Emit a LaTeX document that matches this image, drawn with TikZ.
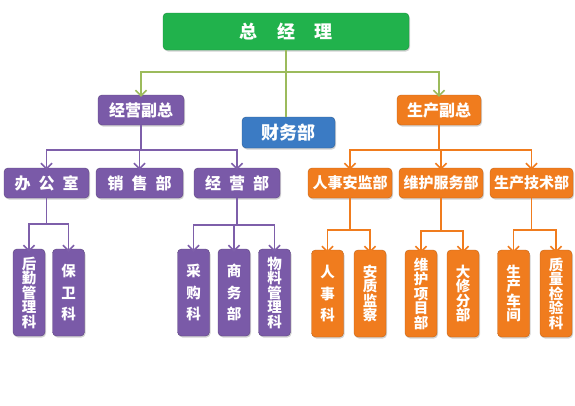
\documentclass[tikz,border=0pt]{standalone}
\usepackage{fontspec}
\setmainfont{Noto Sans CJK SC}
\usepackage{tikz}
\usetikzlibrary{arrows.meta, positioning, shadows}

\definecolor{gmgreen}{HTML}{21B24C}
\definecolor{gmline}{HTML}{9CBB5C}
\definecolor{fzpurple}{HTML}{7A5AA8}
\definecolor{fzline}{HTML}{7E5FAA}
\definecolor{sporange}{HTML}{F07C1E}
\definecolor{cwblue}{HTML}{3B7BC4}

\begin{document}
\begin{tikzpicture}[x=1pt, y=-1pt,
    box/.style={rounded corners=4pt, text=white, font=\bfseries,
        inner sep=0pt, drop shadow={shadow xshift=1pt, shadow yshift=-1.5pt, opacity=0.35}},
    topbox/.style={box, fill=gmgreen, draw=gmgreen!80!black,
        minimum width=246pt, minimum height=37pt, font=\bfseries\fontsize{18}{20}\selectfont},
    bluebox/.style={box, fill=cwblue, draw=cwblue!75!black,
        minimum width=93pt, minimum height=31pt, font=\bfseries\fontsize{18}{20}\selectfont},
    purplebox/.style={box, fill=fzpurple, draw=fzpurple!75!black,
        minimum height=30pt, font=\bfseries\fontsize{16}{18}\selectfont},
    orangebox/.style={box, fill=sporange, draw=sporange!80!black,
        minimum height=30pt, font=\bfseries\fontsize{15}{17}\selectfont},
    vbox/.style={minimum width=32pt, minimum height=87pt, align=center,
        font=\bfseries\fontsize{14.5}{14.5}\selectfont},
    pv/.style={purplebox, vbox},
    ov/.style={orangebox, vbox},
    link/.style={line width=1.6pt, -{Straight Barb[length=5.5pt, width=11pt, line width=1.6pt]}},
    greenlink/.style={link, draw=gmline},
    purplelink/.style={link, draw=fzline},
    orangelink/.style={link, draw=sporange}]

\useasboundingbox (0,0) rectangle (575,405);

% top level
\node[topbox] (zjl) at (286,31.5) {总\hspace{1.1em}经\hspace{1.1em}理};
\node[purplebox, minimum width=86pt] (jyfz) at (141,110) {经营副总};
\node[bluebox] (cwb) at (288.5,132.5) {财务部};
\node[orangebox, minimum width=84pt, font=\bfseries\fontsize{16}{18}\selectfont] (scfz) at (439,110) {生产副总};

% second level
\node[purplebox, minimum width=85pt] (bgs) at (46.5,183) {办\hspace{0.5em}公\hspace{0.5em}室};
\node[purplebox, minimum width=87pt] (xsb) at (139.5,183) {销\hspace{0.5em}售\hspace{0.5em}部};
\node[purplebox, minimum width=86pt] (jyb) at (237,183) {经\hspace{0.5em}营\hspace{0.5em}部};
\node[orangebox, minimum width=84pt] (rsab) at (350,183) {人事安监部};
\node[orangebox, minimum width=84pt] (whfw) at (441,183) {维护服务部};
\node[orangebox, minimum width=83pt] (scjs) at (531.5,183) {生产技术部};

% third level
\node[pv] (hqgl) at (29,292.5) {后\\勤\\管\\理\\科};
\node[pv] (bwk) at (68.5,292.5) {保\\[7pt]卫\\[7pt]科};
\node[pv] (cgk) at (193.5,292.5) {采\\[7pt]购\\[7pt]科};
\node[pv] (swb) at (234,292.5) {商\\[7pt]务\\[7pt]部};
\node[pv] (wlgl) at (274.5,292.5) {物\\料\\管\\理\\科};
\node[ov] (rsk) at (327.5,293.5) {人\\[7pt]事\\[7pt]科};
\node[ov] (azjc) at (370,293.5) {安\\质\\监\\察};
\node[ov] (whxm) at (421,293.5) {维\\护\\项\\目\\部};
\node[ov] (dxfb) at (463,293.5) {大\\修\\分\\部};
\node[ov] (sccj) at (513.5,293.5) {生\\产\\车\\间};
\node[ov] (zljy) at (556,293.5) {质\\量\\检\\验\\科};

% connectors
\draw[gmline, line width=1.6pt] (zjl.south) -- (zjl.south |- cwb.north);
\draw[greenlink] (zjl.south) ++(0,22) -| ([yshift=-2pt]jyfz.north);
\draw[greenlink] (zjl.south) ++(0,22) -| ([yshift=-2pt]scfz.north);

\foreach \c in {bgs, xsb, jyb}
    \draw[purplelink] (jyfz.south) -- ++(0,25) -| ([yshift=-2pt]\c.north);
\foreach \c in {rsab, whfw, scjs}
    \draw[orangelink] (scfz.south) -- ++(0,25) -| ([yshift=-2pt]\c.north);

\foreach \c in {hqgl, bwk}
    \draw[purplelink] (bgs.south) -- ++(0,26) -| ([yshift=-3pt]\c.north);
\foreach \c in {cgk, swb, wlgl}
    \draw[purplelink] (jyb.south) -- ++(0,27) -| ([yshift=-3pt]\c.north);
\foreach \c in {rsk, azjc}
    \draw[orangelink] (rsab.south) -- ++(0,32) -| ([yshift=-3pt]\c.north);
\foreach \c in {whxm, dxfb}
    \draw[orangelink] (whfw.south) -- ++(0,33) -| ([yshift=-3pt]\c.north);
\foreach \c in {sccj, zljy}
    \draw[orangelink] (scjs.south) -- ++(0,32) -| ([yshift=-3pt]\c.north);
\end{tikzpicture}
\end{document}
